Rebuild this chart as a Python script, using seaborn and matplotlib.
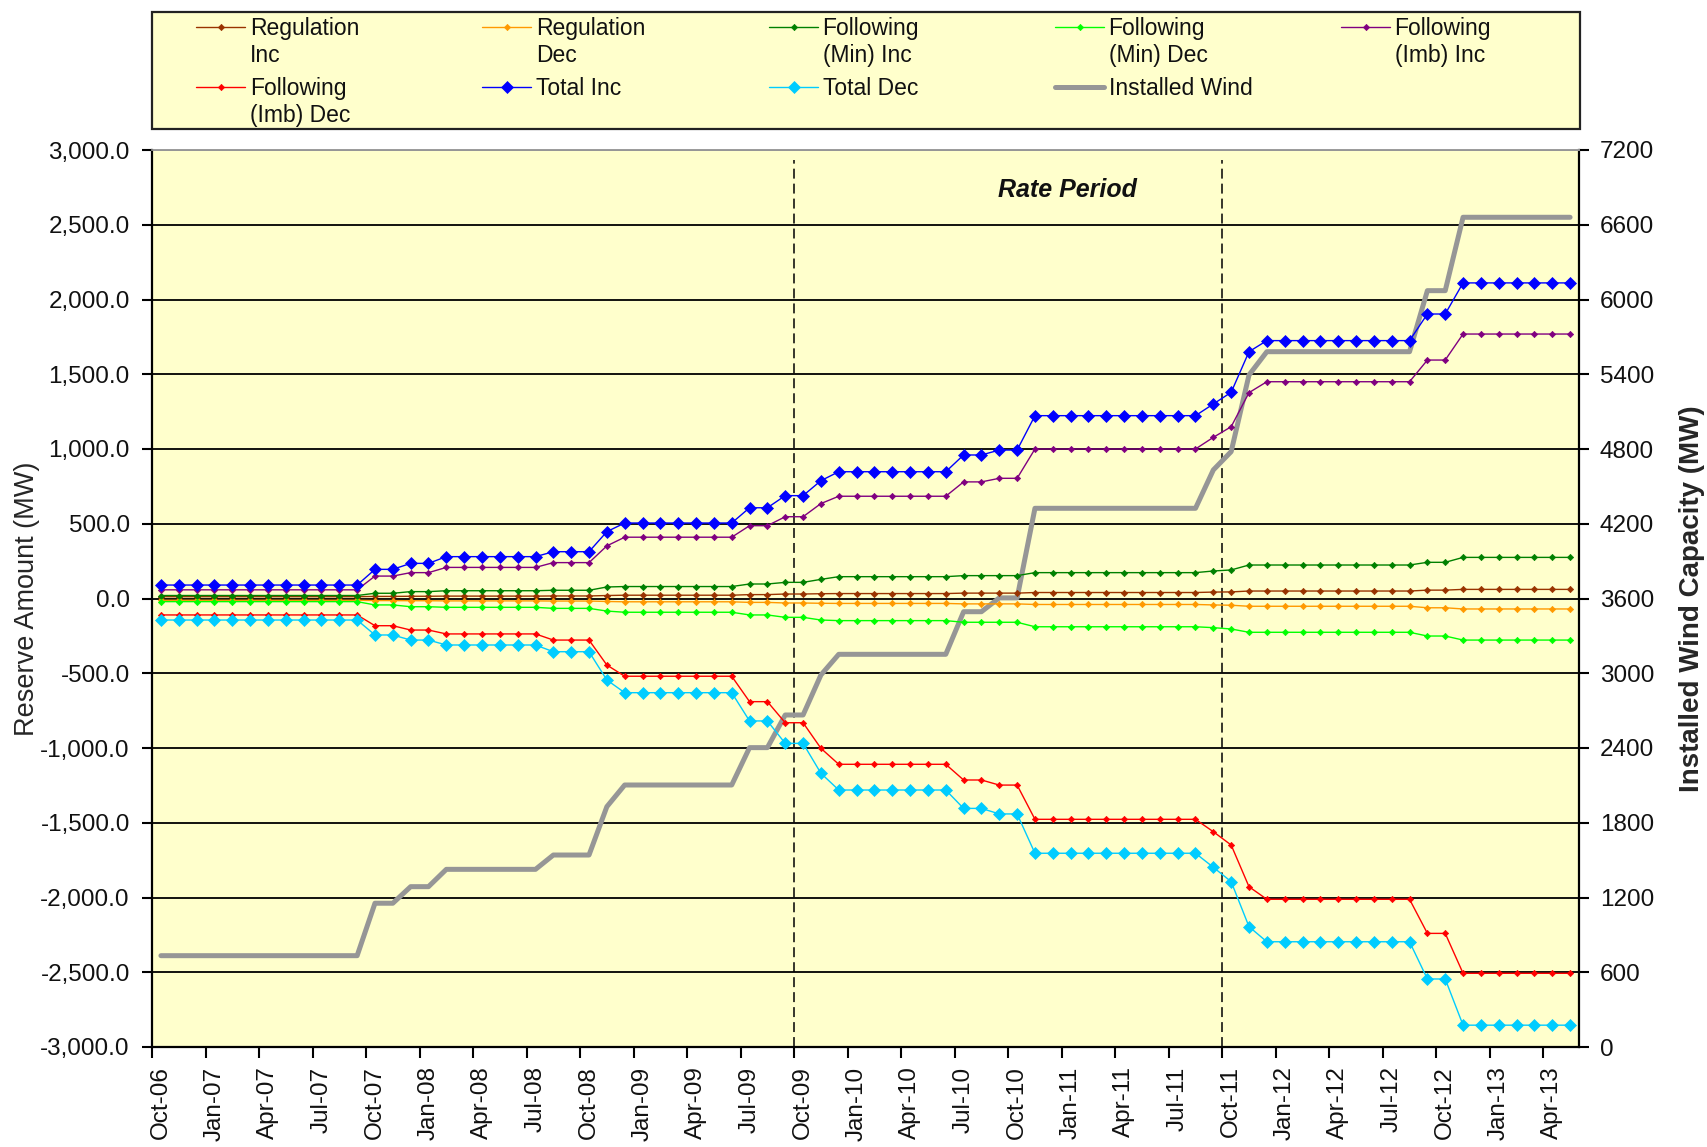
import numpy as np
import pandas as pd
import matplotlib
matplotlib.use("Agg")
import matplotlib.pyplot as plt
import seaborn as sns
from matplotlib.ticker import FuncFormatter
from matplotlib.patches import Rectangle

# ---------------- data ----------------
MONTHS = [d.strftime('%b-%y') for d in pd.date_range('2006-10-01', periods=80, freq='MS')]
TICK_LABELS = ['Oct-06', 'Jan-07', 'Apr-07', 'Jul-07', 'Oct-07', 'Jan-08', 'Apr-08', 'Jul-08', 'Oct-08',
               'Jan-09', 'Apr-09', 'Jul-09', 'Oct-09', 'Jan-10', 'Apr-10', 'Jul-10', 'Oct-10', 'Jan-11',
               'Apr-11', 'Jul-11', 'Oct-11', 'Jan-12', 'Apr-12', 'Jul-12', 'Oct-12', 'Jan-13', 'Apr-13']
RATE_PERIOD = ['Oct-09', 'Oct-11']

REG_INC = [12, 12, 12, 12, 12, 12, 12, 12, 12, 12, 12, 12,
           14, 14, 15, 15, 16, 16, 16, 16, 16, 16, 17, 17, 17,
           20, 22, 22, 22, 22, 22, 22, 22, 26, 26, 30, 30, 32,
           33, 33, 33, 33, 33, 33, 33, 36, 36, 36, 36,
           40, 40, 40, 40, 40, 40, 40, 40, 40, 40, 43, 44,
           50, 50, 50, 50, 50, 50, 50, 50, 50, 50, 56, 56,
           61, 61, 61, 61, 61, 61, 61]
REG_DEC = [-12, -12, -12, -12, -12, -12, -12, -12, -12, -12, -12, -12,
           -14, -14, -15, -15, -16, -16, -16, -16, -16, -16, -17, -17, -17,
           -20, -22, -22, -22, -22, -22, -22, -22, -26, -26, -30, -30, -32,
           -33, -33, -33, -33, -33, -33, -33, -36, -36, -36, -36,
           -40, -40, -40, -40, -40, -40, -40, -40, -40, -40, -43, -45,
           -52, -52, -52, -52, -52, -52, -52, -52, -52, -52, -62, -62,
           -70, -70, -70, -70, -70, -70, -70]
MIN_INC = [20, 20, 20, 20, 20, 20, 20, 20, 20, 20, 20, 20,
           35, 35, 46, 46, 52, 52, 52, 52, 52, 52, 55, 55, 55,
           77, 80, 80, 80, 80, 80, 80, 80, 97, 97, 108, 108, 128,
           146, 146, 146, 146, 146, 146, 146, 153, 153, 153, 153,
           173, 173, 173, 173, 173, 173, 173, 173, 173, 173, 184, 191,
           224, 224, 224, 224, 224, 224, 224, 224, 224, 224, 242, 242,
           275, 275, 275, 275, 275, 275, 275]
MIN_DEC = [-21, -21, -21, -21, -21, -21, -21, -21, -21, -21, -21, -21,
           -43, -43, -55, -55, -59, -59, -59, -59, -59, -59, -66, -66, -66,
           -84, -92, -92, -92, -92, -92, -92, -92, -110, -110, -126, -126, -144,
           -148, -148, -148, -148, -148, -148, -148, -159, -159, -159, -159,
           -189, -189, -189, -189, -189, -189, -189, -189, -189, -189, -195, -204,
           -226, -226, -226, -226, -226, -226, -226, -226, -226, -226, -251, -251,
           -278, -278, -278, -278, -278, -278, -278]
IMB_INC = [58, 58, 58, 58, 58, 58, 58, 58, 58, 58, 58, 58,
           150, 150, 173, 173, 208, 208, 208, 208, 208, 208, 240, 240, 240,
           352, 410, 410, 410, 410, 410, 410, 410, 487, 487, 547, 547, 635,
           684, 684, 684, 684, 684, 684, 684, 780, 780, 804, 804,
           1000, 1000, 1000, 1000, 1000, 1000, 1000, 1000, 1000, 1000, 1078, 1149,
           1377, 1450, 1450, 1450, 1450, 1450, 1450, 1450, 1450, 1450, 1595, 1595,
           1769, 1769, 1769, 1769, 1769, 1769, 1769]
IMB_DEC = [-110, -110, -110, -110, -110, -110, -110, -110, -110, -110, -110, -110,
           -182, -182, -211, -211, -237, -237, -237, -237, -237, -237, -278, -278, -278,
           -445, -520, -520, -520, -520, -520, -520, -520, -690, -690, -831, -831, -1002,
           -1109, -1109, -1109, -1109, -1109, -1109, -1109, -1214, -1214, -1248, -1248,
           -1477, -1477, -1477, -1477, -1477, -1477, -1477, -1477, -1477, -1477, -1560, -1649,
           -1928, -2012, -2012, -2012, -2012, -2012, -2012, -2012, -2012, -2012, -2240, -2240,
           -2507, -2507, -2507, -2507, -2507, -2507, -2507]
TOTAL_INC = [90, 90, 90, 90, 90, 90, 90, 90, 90, 90, 90, 90,
             195, 195, 235, 235, 280, 280, 280, 280, 280, 280, 313, 313, 313,
             447, 505, 505, 505, 505, 505, 505, 505, 607, 607, 688, 688, 788,
             848, 848, 848, 848, 848, 848, 848, 960, 960, 993, 993,
             1223, 1223, 1223, 1223, 1223, 1223, 1223, 1223, 1223, 1223, 1301, 1379,
             1651, 1725, 1725, 1725, 1725, 1725, 1725, 1725, 1725, 1725, 1903, 1903,
             2111, 2111, 2111, 2111, 2111, 2111, 2111]
TOTAL_DEC = [-144, -144, -144, -144, -144, -144, -144, -144, -144, -144, -144, -144,
             -244, -244, -278, -278, -311, -311, -311, -311, -311, -311, -356, -356, -356,
             -545, -630, -630, -630, -630, -630, -630, -630, -819, -819, -969, -969, -1169,
             -1281, -1281, -1281, -1281, -1281, -1281, -1281, -1404, -1404, -1441, -1441,
             -1704, -1704, -1704, -1704, -1704, -1704, -1704, -1704, -1704, -1704, -1798, -1894,
             -2195, -2296, -2296, -2296, -2296, -2296, -2296, -2296, -2296, -2296, -2545, -2545,
             -2854, -2854, -2854, -2854, -2854, -2854, -2854]
WIND = [733, 733, 733, 733, 733, 733, 733, 733, 733, 733, 733, 733,
        1154, 1154, 1287, 1287, 1426, 1426, 1426, 1426, 1426, 1426, 1541, 1541, 1541,
        1929, 2103, 2103, 2103, 2103, 2103, 2103, 2103, 2403, 2403, 2665, 2665, 2986,
        3152, 3152, 3152, 3152, 3152, 3152, 3152, 3494, 3494, 3605, 3605,
        4324, 4324, 4324, 4324, 4324, 4324, 4324, 4324, 4324, 4324, 4632, 4779,
        5394, 5581, 5581, 5581, 5581, 5581, 5581, 5581, 5581, 5581, 6071, 6071,
        6660, 6660, 6660, 6660, 6660, 6660, 6660]

df = pd.DataFrame({
    'idx': np.arange(len(MONTHS)), 'month': MONTHS,
    'Regulation\nInc': REG_INC, 'Regulation\nDec': REG_DEC,
    'Following\n(Min) Inc': MIN_INC, 'Following\n(Min) Dec': MIN_DEC,
    'Following\n(Imb) Inc': IMB_INC, 'Following\n(Imb) Dec': IMB_DEC,
    'Total Inc': TOTAL_INC, 'Total Dec': TOTAL_DEC, 'Installed Wind': WIND,
})

STYLES = [
    ('Regulation\nInc', '#993300', 3.2),
    ('Regulation\nDec', '#FF9900', 3.2),
    ('Following\n(Min) Inc', '#008000', 3.2),
    ('Following\n(Min) Dec', '#00FF00', 3.2),
    ('Following\n(Imb) Inc', '#800080', 3.2),
    ('Following\n(Imb) Dec', '#FF0000', 3.2),
    ('Total Inc', '#0000FF', 5.8),
    ('Total Dec', '#00CCFF', 5.8),
]

# ---------------- style ----------------
sns.set_style("white")
plt.rcParams['font.family'] = ['Liberation Sans', 'DejaVu Sans']
plt.rcParams['text.color'] = '#111111'

W, H = 1707, 1147
fig = plt.figure(figsize=(W / 100, H / 100), dpi=100)
fig.patch.set_facecolor('white')
ax = fig.add_axes([152 / W, 1 - 1047 / H, 1427 / W, 897 / H])
ax2 = ax.twinx()
# secondary (wind) axis sits underneath the primary series
ax.set_zorder(ax2.get_zorder() + 1)
ax.patch.set_visible(False)
ax2.patch.set_visible(True)
ax2.set_facecolor('#FFFFCC')

handles = {}
for name, color, ms in STYLES:
    sns.lineplot(data=df, x='idx', y=name, ax=ax, color=color, marker='D', markersize=ms,
                 markeredgecolor=color, markeredgewidth=0.5, linewidth=1.0, legend=False)
    handles[name] = ax.lines[-1]

sns.lineplot(data=df, x='idx', y='Installed Wind', ax=ax2, color='#969696', linewidth=3.6,
             legend=False, zorder=3)
handles['Installed Wind'] = ax2.lines[-1]

# rate period boundaries
for m in RATE_PERIOD:
    ax2.axvline(MONTHS.index(m) - 0.5, ymin=0, ymax=0.989, color='black', lw=1.1,
                ls=(0, (6.5, 3.3)), zorder=2)
ax.text(50.8, 2732, 'Rate Period', fontsize=18, fontweight='bold', fontstyle='italic',
        ha='center', va='center')

# axes
ax.set_xlim(-0.5, len(MONTHS) - 0.5)
ax.set_ylim(-3000, 3000)
ax2.set_ylim(0, 7200)
ax.set_yticks(np.arange(-3000, 3001, 500))
ax2.set_yticks(np.arange(0, 7201, 600))
ax.yaxis.set_major_formatter(FuncFormatter(lambda v, p: f"{v:,.1f}"))
ax2.yaxis.set_major_formatter(FuncFormatter(lambda v, p: f"{v:.0f}"))

tick_pos = [MONTHS.index(t) for t in TICK_LABELS]
ax.set_xticks(tick_pos)
ax.set_xticklabels(TICK_LABELS, rotation=90)
ax.set_xticks(np.arange(-0.5, len(MONTHS) - 0.5, 3), minor=True)
ax.tick_params(axis='x', which='major', length=0, pad=14, labelsize=17.5, labelcolor='#111111')
ax.tick_params(axis='x', which='minor', length=8, width=1.5, direction='out', color='black',
               bottom=True)
ax.tick_params(axis='y', which='major', length=7, width=1.5, direction='out', color='black',
               pad=9, labelsize=17.5, labelcolor='#111111', left=True)
ax2.tick_params(axis='y', which='major', length=7, width=1.5, direction='out', color='black',
                pad=8, labelsize=17.5, labelcolor='#111111', right=True)

ax.set_xlabel('')
ax.set_ylabel('Reserve Amount (MW)', fontsize=19.5, va='center')
ax.yaxis.set_label_coords(-0.0876, 0.5)
ax2.set_ylabel('Installed Wind Capacity (MW)', fontsize=20, fontweight='bold',
               rotation=90, va='center')
ax2.yaxis.set_label_coords(1.0792, 0.5)

# horizontal gridlines (0..7200 by 600 coincide with -3000..3000 by 500)
ax.grid(False)
ax2.yaxis.grid(True, color='black', linewidth=1.3)
ax2.xaxis.grid(False)
ax2.set_axisbelow(True)

for s in ['left', 'bottom']:
    ax.spines[s].set_color('black')
    ax.spines[s].set_linewidth(1.6)
ax.spines['right'].set_visible(False)
ax.spines['top'].set_color('#9a9a9a')
ax.spines['top'].set_linewidth(1.2)
ax2.spines['right'].set_color('black')
ax2.spines['right'].set_linewidth(1.6)
for s in ['left', 'bottom']:
    ax2.spines[s].set_visible(False)
ax2.spines['top'].set_color('#9a9a9a')
ax2.spines['top'].set_linewidth(1.2)

# legend box
fig.add_artist(Rectangle((152 / W, 1 - 129 / H), 1428 / W, 117 / H, transform=fig.transFigure,
                         facecolor='#FFFFCC', edgecolor='#222222', lw=1.6, zorder=0))
COLUMNS = [
    ['Regulation\nInc', 'Following\n(Imb) Dec'],
    ['Regulation\nDec', 'Total Inc'],
    ['Following\n(Min) Inc', 'Total Dec'],
    ['Following\n(Min) Dec', 'Installed Wind'],
    ['Following\n(Imb) Inc'],
]
COL_X = [196, 482, 769, 1055, 1341]
for cx, names in zip(COL_X, COLUMNS):
    leg = fig.legend([handles[n] for n in names], names, loc='upper left',
                     bbox_to_anchor=(cx / W, 1 - 17.5 / H), bbox_transform=fig.transFigure,
                     frameon=False, borderpad=0, borderaxespad=0, handlelength=2.14,
                     handletextpad=0.2, labelspacing=0.44, fontsize=16.5, numpoints=1,
                     handleheight=1.2)
    for col in leg._legend_handle_box.get_children():
        for row in col.get_children():
            row.align = 'top'

fig.savefig('out.png', dpi=100, facecolor='white')
